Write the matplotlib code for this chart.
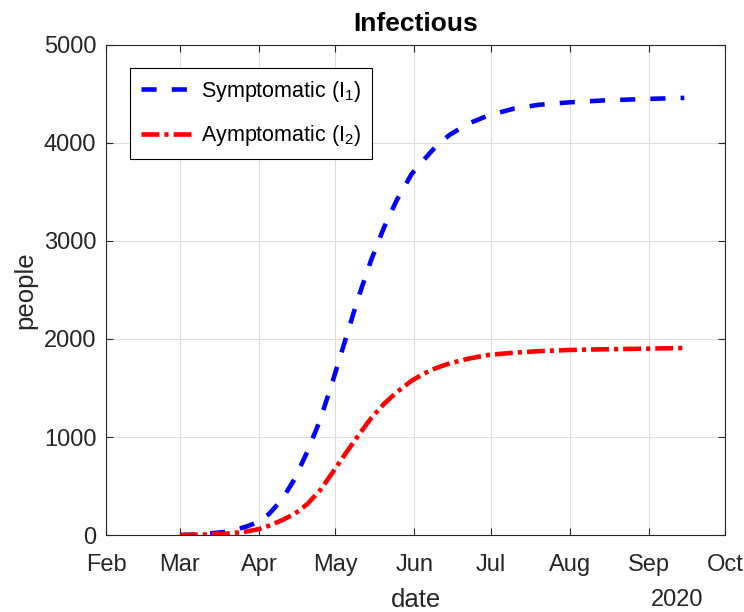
import numpy as np
import matplotlib
matplotlib.use('Agg')
import matplotlib.pyplot as plt
import matplotlib.dates as mdates

plt.rcParams['font.family'] = ['Liberation Sans', 'DejaVu Sans']

# fechas (2020)
fechas = np.array(['2020-03-01', '2020-03-10', '2020-03-20', '2020-03-27', '2020-04-01',
                   '2020-04-05', '2020-04-10', '2020-04-15', '2020-04-20', '2020-04-25',
                   '2020-04-30', '2020-05-05', '2020-05-10', '2020-05-15', '2020-05-20',
                   '2020-05-25', '2020-05-31', '2020-06-05', '2020-06-10', '2020-06-15',
                   '2020-06-22', '2020-06-30', '2020-07-10', '2020-07-20', '2020-08-01',
                   '2020-08-15', '2020-09-01', '2020-09-15'], dtype='datetime64[D]')

sintomaticos = [0, 8, 35, 85, 135,
                215, 360, 570, 850, 1170,
                1570, 1995, 2420, 2800, 3130,
                3410, 3685, 3835, 3980, 4085,
                4195, 4280, 4350, 4390, 4415,
                4435, 4450, 4460]

asintomaticos = [0, 5, 15, 35, 60,
                 95, 150, 215, 315, 455,
                 640, 830, 1015, 1190, 1335,
                 1455, 1575, 1650, 1708, 1752,
                 1798, 1837, 1860, 1876, 1888,
                 1895, 1902, 1908]

x = fechas.astype('datetime64[s]').astype(object)

fig = plt.figure(figsize=(7.44, 6.12), dpi=100)
ax = fig.add_axes([0.1425, 0.1258, 0.832, 0.8007])

ax.plot(x, sintomaticos, color='blue', linewidth=3.3, dashes=(3.3, 3.3),
        dash_capstyle='butt', label='Symptomatic (I$\\mathregular{_1}$)')
ax.plot(x, asintomaticos, color='red', linewidth=3.3, dashes=(3.9, 1.1, 0.9, 1.1),
        dash_capstyle='butt', label='Aymptomatic (I$\\mathregular{_2}$)')

ax.set_xlim(np.datetime64('2020-02-01').astype(object), np.datetime64('2020-10-01').astype(object))
ax.set_ylim(0, 5000)
ax.set_yticks(np.arange(0, 5001, 1000))
ax.xaxis.set_major_locator(mdates.MonthLocator())
ax.xaxis.set_major_formatter(mdates.DateFormatter('%b'))

ax.grid(True, color='#dedede', linewidth=0.8)
ax.set_axisbelow(True)
for s in ax.spines.values():
    s.set_color('#262626')
    s.set_linewidth(0.8)
ax.tick_params(direction='in', length=5, width=0.8, colors='#262626',
               labelsize=17, top=True, right=True, pad=7)
ax.tick_params(axis='x', pad=14)

ax.set_title('Infectious', fontsize=19, fontweight='bold', pad=10)
ax.set_xlabel('date', fontsize=18.5, color='#262626', labelpad=8)
ax.set_ylabel('people', fontsize=18.5, color='#262626', labelpad=4.5)
ax.text(0.922, -0.132, '2020', transform=ax.transAxes, ha='center', va='center',
        fontsize=17, color='#262626')

leg = ax.legend(loc='upper left', bbox_to_anchor=(0.0388, 0.953), borderaxespad=0,
                fontsize=15.5, fancybox=False, framealpha=1, edgecolor='black',
                handlelength=2.5, handletextpad=0.3, labelspacing=0.9, borderpad=0.5)
leg.get_frame().set_linewidth(0.8)

plt.savefig('out.png', dpi=100)
